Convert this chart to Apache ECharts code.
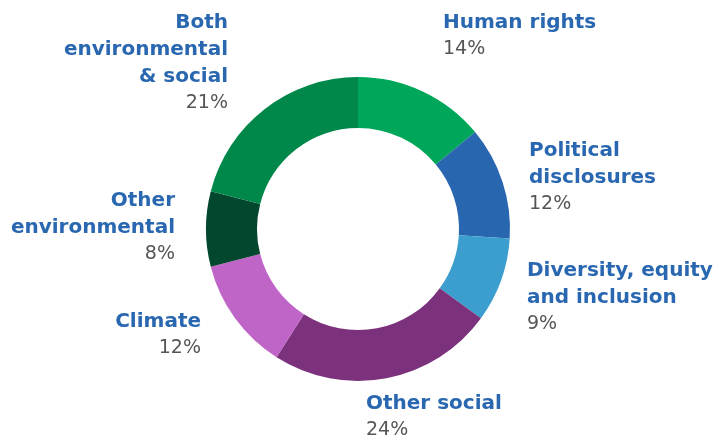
<!DOCTYPE html>
<html>
<head>
<meta charset="utf-8">
<script src="https://cdn.jsdelivr.net/npm/echarts@6/dist/echarts.min.js"></script>
<style>html,body{margin:0;padding:0;background:#fff;}#c{width:713px;height:435px;}</style>
</head>
<body>
<div id="c"></div>
<script>
const categories = ['Human rights', 'Political\ndisclosures', 'Diversity, equity\nand inclusion', 'Other social', 'Climate', 'Other\nenvironmental', 'Both\nenvironmental\n& social'];
const values = [14, 12, 9, 24, 12, 8, 21];
const colors = ['#00A659', '#2966B0', '#3C9ECE', '#7C317C', '#C065C8', '#03472E', '#00874A'];
// label anchor [x, y, align]
const labelAnchors = [
  [443, 9, 'left'],
  [529, 137, 'left'],
  [527, 257, 'left'],
  [366, 390, 'left'],
  [201, 308, 'right'],
  [175, 187, 'right'],
  [228, 9, 'right']
];

const chart = echarts.init(document.getElementById('c'));
chart.setOption({
  animation: false,
  series: [{
    type: 'pie',
    center: [358, 229],
    radius: [101, 152],
    startAngle: 90,
    clockwise: true,
    data: categories.map((n, i) => ({ name: n, value: values[i], itemStyle: { color: colors[i] } })),
    label: {
      show: true,
      overflow: 'none',
      formatter: p => '{n|' + p.name + '}\n{p|' + p.value + '%}',
      rich: {
        n: { fontFamily: 'DejaVu Sans', fontWeight: 'bold', fontSize: 20, color: '#2A67B1', lineHeight: 27 },
        p: { fontFamily: 'DejaVu Sans', fontWeight: 'normal', fontSize: 19, color: '#555555', lineHeight: 27 }
      }
    },
    labelLine: { show: false },
    labelLayout: params => {
      const a = labelAnchors[params.dataIndex];
      return { x: a[0], y: a[1], align: a[2], verticalAlign: 'top' };
    },
    emphasis: { disabled: true }
  }]
});
</script>
</body>
</html>
